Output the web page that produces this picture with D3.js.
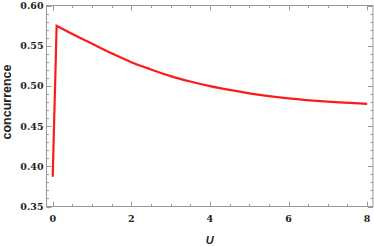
<!DOCTYPE html>
<html>
<head>
<meta charset="utf-8">
<script src="https://cdn.jsdelivr.net/npm/d3@7"></script>
<style>
  body { margin: 0; background: #fff; }
  .tick-label { font-family: "DejaVu Serif", serif; font-weight: bold; font-size: 9.5px; fill: #222; }
</style>
</head>
<body>
<div id="chart"></div>
<script>
/* Data */
const uValues = [0, 0.1, 0.5, 1, 1.5, 2, 2.5, 3, 3.5, 4, 4.5, 5, 6, 7, 8];
const concurrence = [0.387, 0.5748, 0.5645, 0.5525, 0.5405, 0.5295, 0.5205, 0.5122, 0.5055, 0.4998, 0.4950, 0.4908, 0.4846, 0.4804, 0.4776];

const xTicks = [0, 2, 4, 6, 8];
const yTicks = [0.35, 0.40, 0.45, 0.50, 0.55, 0.60];

const width = 374, height = 246;
const frame = { left: 46.5, right: 373, top: 5.5, bottom: 206.5 };

const x = d3.scaleLinear().domain([-0.158, 8.15]).range([frame.left, frame.right]);
const y = d3.scaleLinear().domain([0.35, 0.60]).range([frame.bottom, frame.top]);

const svg = d3.select('#chart').append('svg')
    .attr('width', width)
    .attr('height', height);

/* Frame */
svg.append('rect')
    .attr('x', frame.left)
    .attr('y', frame.top)
    .attr('width', frame.right - frame.left)
    .attr('height', frame.bottom - frame.top)
    .attr('fill', 'none')
    .attr('stroke', '#999')
    .attr('stroke-width', 1);

const xMinor = d3.range(0, 8.01, 0.5).filter(v => !xTicks.includes(v));
const yMinor = d3.range(0.35, 0.6001, 0.01).map(v => +v.toFixed(2)).filter(v => !yTicks.some(t => Math.abs(t - v) < 1e-6));

const ticks = svg.append('g').attr('stroke', '#999').attr('stroke-width', 1);

function xTickLines(vals, len) {
    vals.forEach(v => {
        const px = Math.round(x(v)) + 0.5;
        ticks.append('line').attr('x1', px).attr('x2', px).attr('y1', frame.bottom).attr('y2', frame.bottom - len);
        ticks.append('line').attr('x1', px).attr('x2', px).attr('y1', frame.top).attr('y2', frame.top + len);
    });
}
function yTickLines(vals, len) {
    vals.forEach(v => {
        const py = Math.round(y(v)) + 0.5;
        ticks.append('line').attr('x1', frame.left).attr('x2', frame.left + len).attr('y1', py).attr('y2', py);
        ticks.append('line').attr('x1', frame.right).attr('x2', frame.right - len).attr('y1', py).attr('y2', py);
    });
}
xTickLines(xTicks, 5);
xTickLines(xMinor, 2.5);
yTickLines(yTicks, 5);
yTickLines(yMinor, 2.5);

/* Tick labels */
svg.append('g').selectAll('text')
    .data(xTicks)
    .join('text')
    .attr('class', 'tick-label')
    .attr('x', d => x(d))
    .attr('y', 222)
    .attr('text-anchor', 'middle')
    .text(d => d);

svg.append('g').selectAll('text')
    .data(yTicks)
    .join('text')
    .attr('class', 'tick-label')
    .attr('x', 43.5)
    .attr('y', d => y(d) + 3.5)
    .attr('text-anchor', 'end')
    .text(d => d.toFixed(2));

/* Axis labels */
svg.append('text')
    .attr('x', (frame.left + frame.right) / 2)
    .attr('y', 244)
    .attr('text-anchor', 'middle')
    .attr('font-family', '"Liberation Sans", sans-serif')
    .attr('font-weight', 'bold')
    .attr('font-style', 'italic')
    .attr('font-size', 11)
    .attr('fill', '#222')
    .text('U');

svg.append('text')
    .attr('transform', 'translate(11.3,102) rotate(-90)')
    .attr('text-anchor', 'middle')
    .attr('font-family', '"Liberation Sans", sans-serif')
    .attr('font-weight', 'bold')
    .attr('font-size', 12.5)
    .attr('fill', '#222')
    .text('concurrence');

/* Curve: straight jump up to the peak, smooth decay after it */
const points = uValues.map((u, i) => [x(u), y(concurrence[i])]);
const rise = d3.line().curve(d3.curveLinear)(points.slice(0, 2));
const decay = d3.line().curve(d3.curveMonotoneX)(points.slice(1));

svg.append('path')
    .attr('fill', 'none')
    .attr('stroke', '#ff1a1a')
    .attr('stroke-width', 2.2)
    .attr('stroke-linejoin', 'miter')
    .attr('d', rise + decay.replace(/^M/, 'L'));
</script>
</body>
</html>
